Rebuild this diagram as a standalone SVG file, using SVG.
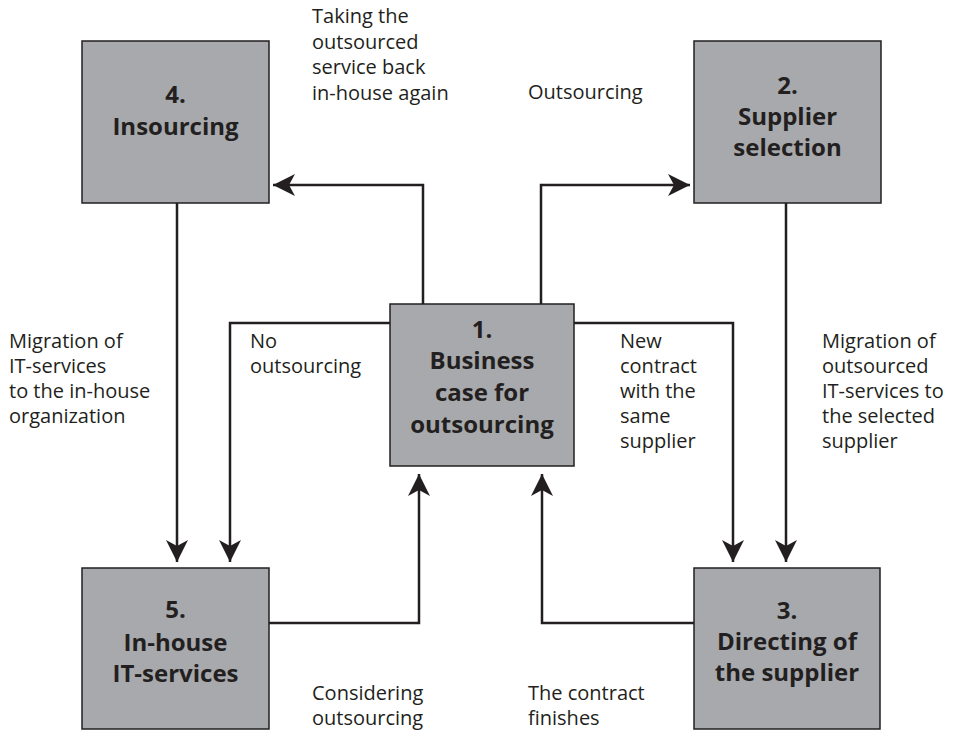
<svg xmlns="http://www.w3.org/2000/svg" width="954" height="733" viewBox="0 0 954 733">
<defs>
<marker id="ah" markerUnits="userSpaceOnUse" viewBox="0 0 22 22" markerWidth="22" markerHeight="22" refX="22" refY="11" orient="auto">
<path d="M0,0 L22,11 L0,22 L6,11 Z" fill="#231f20"/>
</marker>
<style>
.box{fill:#a7a9ac;stroke:#231f20;stroke-width:1.5}
.bt{font-family:"Open Sans","Noto Sans",sans-serif;font-weight:bold;font-size:24px;fill:#231f20;text-anchor:middle}
.lt{font-family:"Open Sans","Noto Sans",sans-serif;font-size:20px;fill:#231f20}
.c{fill:none;stroke:#231f20;stroke-width:2.5;marker-end:url(#ah)}
</style>
</defs>
<rect width="954" height="733" fill="#ffffff"/>
<g id="connectors">
<path class="c" d="M423,304 V185 H273"/>
<path class="c" d="M541,304 V185 H690"/>
<path class="c" d="M177,203 V562"/>
<path class="c" d="M390,323 H230 V562"/>
<path class="c" d="M269,623 H419 V474"/>
<path class="c" d="M694,623 H542 V474"/>
<path class="c" d="M574,323 H733 V562"/>
<path class="c" d="M786,203 V562"/>
</g>
<g id="node1">
<rect class="box" x="390" y="304" width="184" height="162"/>
<text class="bt"><tspan x="482" y="338">1.</tspan><tspan x="482" y="369">Business</tspan><tspan x="482" y="401">case for</tspan><tspan x="482" y="433">outsourcing</tspan></text>
</g>
<g id="node2">
<rect class="box" x="694" y="41" width="187" height="162"/>
<text class="bt"><tspan x="787.5" y="94">2.</tspan><tspan x="787.5" y="125">Supplier</tspan><tspan x="787.5" y="156">selection</tspan></text>
</g>
<g id="node3">
<rect class="box" x="694" y="568" width="186" height="161"/>
<text class="bt"><tspan x="787" y="619">3.</tspan><tspan x="787" y="650">Directing of</tspan><tspan x="787" y="681">the supplier</tspan></text>
</g>
<g id="node4">
<rect class="box" x="82" y="41" width="187" height="162"/>
<text class="bt"><tspan x="175.5" y="103">4.</tspan><tspan x="175.5" y="135">Insourcing</tspan></text>
</g>
<g id="node5">
<rect class="box" x="82" y="568" width="187" height="161"/>
<text class="bt"><tspan x="175.5" y="618">5.</tspan><tspan x="175.5" y="651">In-house</tspan><tspan x="175.5" y="682">IT-services</tspan></text>
</g>
<g id="labels">
<text class="lt"><tspan x="312" y="23">Taking the</tspan><tspan x="312" y="49">outsourced</tspan><tspan x="312" y="74">service back</tspan><tspan x="312" y="100">in-house again</tspan></text>
<text class="lt" x="528" y="99">Outsourcing</text>
<text class="lt"><tspan x="9" y="348">Migration of</tspan><tspan x="9" y="373">IT-services</tspan><tspan x="9" y="398">to the in-house</tspan><tspan x="9" y="423">organization</tspan></text>
<text class="lt"><tspan x="250" y="348">No</tspan><tspan x="250" y="373">outsourcing</tspan></text>
<text class="lt"><tspan x="620" y="348">New</tspan><tspan x="620" y="373">contract</tspan><tspan x="620" y="398">with the</tspan><tspan x="620" y="423">same</tspan><tspan x="620" y="448">supplier</tspan></text>
<text class="lt"><tspan x="822" y="348">Migration of</tspan><tspan x="822" y="373">outsourced</tspan><tspan x="822" y="398">IT-services to</tspan><tspan x="822" y="423">the selected</tspan><tspan x="822" y="448">supplier</tspan></text>
<text class="lt"><tspan x="312" y="700">Considering</tspan><tspan x="312" y="725">outsourcing</tspan></text>
<text class="lt"><tspan x="528" y="700">The contract</tspan><tspan x="528" y="725">finishes</tspan></text>
</g>
</svg>
